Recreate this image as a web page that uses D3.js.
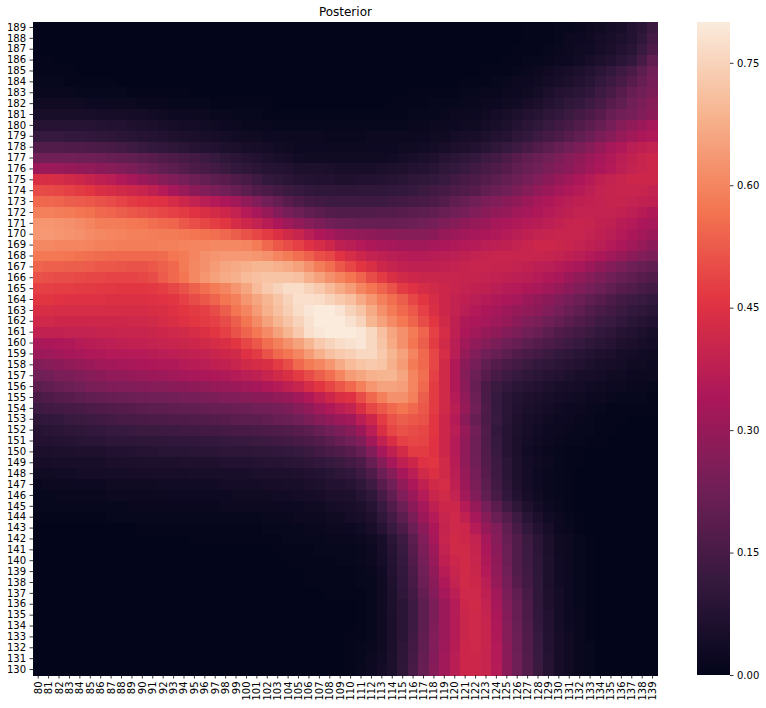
<!DOCTYPE html>
<html><head><meta charset="utf-8">
<script src="https://cdn.jsdelivr.net/npm/d3@7/dist/d3.min.js"></script>
<style>html,body{margin:0;padding:0;background:#fff}svg{display:block}text{font-family:"DejaVu Sans",sans-serif}</style>
</head><body><svg id="c" width="766" height="708"></svg>
<script>
const title = "Posterior";
const xCategories = d3.range(80, 140);
const yCategories = d3.range(189, 129, -1);
const colorbarTicks = [0, 0.15, 0.30, 0.45, 0.60, 0.75];
const valueMax = 0.8;
const rocketStops = ["#03051a","#35193e","#701f57","#ad1759","#e13342","#f37651","#f6b48f","#faebdd"];
// cell values in hundredths, rows top (189) to bottom (130), columns 80..139
const posterior = [
[0,0,0,0,0,0,0,0,0,0, 0,0,0,0,0,0,0,0,0,0, 0,0,0,0,0,0,0,0,0,0, 0,0,0,0,0,0,0,0,0,0, 0,0,0,0,0,0,0,.5,.5,.5, 1,1,1.5,2,3,4,5,7,9,12.5],
[0,0,0,0,0,0,0,0,0,0, 0,0,0,0,0,0,0,0,0,0, 0,0,0,0,0,0,0,0,0,0, 0,0,0,0,0,0,0,0,0,0, 0,0,0,0,0,0,0,.5,.5,.5, 1,2,2.5,3,4,5,6,7.5,10,14],
[0,0,0,0,0,0,0,0,0,0, 0,0,0,0,0,0,0,0,0,0, 0,0,0,0,0,0,0,0,0,0, 0,0,0,0,0,0,0,0,0,0, 0,0,0,0,0,0,.5,.5,.5,1, 1.5,2,3,3.5,4.5,5.5,7,8.5,12,16],
[.5,.5,0,0,0,0,0,0,0,0, 0,0,0,0,0,0,0,0,0,0, 0,0,0,0,0,0,0,0,0,0, 0,0,0,0,0,0,0,0,0,0, 0,0,0,0,0,.5,.5,1,1,1.5, 2,2.5,3.5,5,6,7,9,11,15,20],
[.5,.5,.5,.5,0,0,0,0,0,0, 0,0,0,0,0,0,0,0,0,0, 0,0,0,0,0,0,0,0,0,0, 0,0,0,0,0,0,0,0,0,0, 0,0,0,.5,.5,.5,1,1.5,2,3, 4,5,6,7,9,11,13,15.5,19,23],
[1,1,1,.5,.5,.5,.5,.5,0,0, 0,0,0,0,0,0,0,0,0,0, 0,0,0,0,0,0,0,0,0,0, 0,0,0,0,0,0,0,0,0,0, 0,.5,.5,.5,1,1.5,2,2.5,3,4, 5,6,7,8.5,11,13,15,18,21,24],
[1.5,1.5,1.5,1.5,1,1,1,1,1,.5, .5,.5,.5,.5,.5,0,0,0,0,0, 0,0,0,0,0,0,0,0,0,0, 0,0,0,0,0,0,.5,.5,.5,.5, .5,1,1,1.5,1.5,2,2.5,3,4,5.5, 7,8,9,10.5,13,15,18,21,23,25],
[3,3,3,3,3,2.5,2.5,2,2,2, 1.5,1.5,1.5,1,1,1,1,.5,.5,.5, .5,.5,.5,0,0,0,0,0,0,0, 0,0,0,0,.5,.5,.5,.5,1,1, 1,1.5,1.5,2,2.5,3,3.5,4.5,5.5,7, 8.5,10,11,13,15,18,20,23,25,27],
[5,5,5,5,5,5,4.5,4.5,4.5,4, 4,3.5,3,2.5,2.5,2,2,1.5,1.5,1, 1,1,.5,.5,.5,.5,.5,.5,.5,.5, .5,.5,.5,.5,.5,.5,1,1,1,1.5, 2,2,2.5,3,4,5,6,7,8,9.5, 11,12.5,14,16,18,21,23,24,26,28],
[8,8,8,8,8,8,7.5,7,7,6.5, 6,5.5,5,4.5,4,4,3.5,3,2.5,2, 1.5,1.5,1.5,1,1,1,1,1,1,1, 1,1,1,1,1,1,1.5,1.5,2,2, 2.5,3,3,4,5,6,7.5,9,10,12, 13.5,15,17,19,21,24,27,29,31,33],
[11.5,11.5,11.5,11,11,10.5,10,9.5,9,8.5, 8,7.5,7,6.5,6,5.5,5,4.5,4,3.5, 3,3,2.5,2.5,2,2,2,2,1.5,1.5, 1.5,1.5,2,2,2,2,2,2.5,3,3, 4,4.5,5,6,7,8,9.5,11,13,14.5, 16,18,20,22,25,27,30,32,34,35],
[17,17,17,16.5,16.5,16,15.5,15,14,13, 12,11,10.5,9.5,9,8,7.5,7,6,5.5, 5,4.5,4,3.5,3,2.5,2.5,2.5,2,2, 2,2,2.5,2.5,2.5,3,3,3.5,4,5, 6,6.5,7,8.5,10,11.5,13,15,17,19, 21,23,25,27,30,33,35,37,38,39],
[23,23,23,23,22.5,22.5,22,21,20.5,20, 19,18,17,16,15,14,13,11.5,10,9, 8,7,6,5,4.5,3.5,3,3,3,3, 3,3,3,3,3.5,4,5,5.5,6.5,8, 9,10,11,13,14,16,18,20,21.5,23, 25,27,28.5,31,33,35,37,38.5,40,41],
[31,31,30.5,30,29.5,29,28,27,26,25, 23,21.5,20,19,17.5,16,15,14,12.5,11, 10,9,8,7.5,7,6,6,6,5.5,5, 5,5,5,5.5,6,6.5,7,7.5,8.5,10, 11,12,13.5,15,16.5,18,20,21.5,23,25, 26.5,28,30,32,34,35.5,37.5,39,40,41],
[44,43.5,43,42,41,39.5,38,37,35,33, 31,29,27,25.5,24,22,20.5,19,18,16.5, 15,13,11,10,9,8,7.5,7,7,6.5, 6.5,7,7,7.5,8,8.5,9.5,10,11,12, 13.5,15,16,17.5,19,20.5,22,24,26,28, 30,32,34,36,38,39,40,41,41,41],
[50,49.5,49,48,47,46,44,43,42,41, 40,38,36,33,30.5,28,26,24.5,23,21, 19,17,15.5,14,12.5,11.5,10.5,10,10,9.5, 9.5,10,10,10,10.5,11,11.5,12.5,13.5,14.5, 16,17,18,20,21.5,23,25,27,29.5,31, 33,34.5,36,37.5,39,39.5,40,40,40,39],
[55,54.5,54,53,52.5,52,51,50,48.5,47, 46,45.5,45,43,41,39,37,35.5,34,32, 29,26,23,20.5,18,16,14.5,13.5,13,13, 13,13,13,13,13.5,14,14.5,15,16,17.5, 19.5,21,23,25,26,27.5,29,31,33,34.5, 36,37,38,38.5,39,39.5,39.5,39,38.5,38],
[59,59,58.5,58,57,56.5,55,54,53,52, 51,50,49,48,47,45.5,44,42.5,41,39, 36,33,30,26.5,24,22,20,18.5,17.5,17, 17,17,17,17.5,17.5,18,18.5,19,20,21.5, 23,24,26,27.5,29,30,32,33,34.5,36, 37,38,39,39,39,39,38.5,37.5,36.5,35],
[63,63,62.5,62,61,60,58.5,58.5,58,57.5, 57,56,55,54,52,50.5,49,47.5,46,43, 41,39,36.5,34,31.5,29,27,25,23.5,22, 21.5,21,21,21,21,21.5,22,23,24,25.5, 27,28.5,30,31,33,34,35,36,36.5,37.5, 38.5,39.5,40,39.5,38.5,38,36.5,35.5,34,33],
[63.5,63.5,63,62.5,62,61,60.5,60,59.5,59, 59,58.5,58,58,57.5,57,56.5,56,54.5,53, 51,49,47,44.5,42,40,37,34.5,33,31, 30,29,28.5,28,27.5,27,27,27,28,30, 31,32,33,34,35,36,37,38,39,39.5, 40,40,40,39,38,37,35.5,34,32.5,31],
[60.5,60.5,60,60,60,59.5,59,59,58.5,58.5, 58.5,58.5,59,59,59.5,60,60,60.5,60.5,60.5, 60,58,55,52,50,48,45,43,41,38, 37,35.5,34.5,33.5,33,32.5,32,32,33,34, 35,35.5,36,37,37.5,38,39,40,41,41, 40.5,40,39,38,37,35.5,34,32,30,28],
[57.5,57.5,57.5,57,56.5,56,55.5,55,55,55, 55,55,55.5,57,58,60,62,63,63.5,63.5, 63.5,63,62,60,58,56,53.5,50.5,49,45.5, 43,41,39,38,37,36.5,36,36,36.5,37, 37.5,38,39,39.5,40,40,40,40,40,39.5, 39,38,37,35.5,34,32,30,28,26,25],
[54,53.5,53.5,53,53,52.5,52,52,51.5,51, 51,52,53.5,55,58,60.5,62,64,66,67, 68,69,69,68,67,65,62,58.5,56,52, 49,46,44,41,39.5,38.5,38,38,38,38.5, 39,39.5,40,40,39.5,39.5,39,38.5,37.5,37, 36,35,33.5,31,28.5,26.5,24.5,22.5,21,20],
[51,50.5,50,50,49.5,49,49,48.5,48.5,48.5, 49,50,52.5,55,57,60.5,63,65,67,68, 70,71,72,72,72,71,68,65,62,59.5, 57,54,50,47,44,42,41,40.5,40.5,40, 40,39.5,39.5,39,38.5,38,37.5,37,36,35, 33.5,31,29,27,25,23,21,19.5,18,17],
[48,48,47.5,47.5,47,47,46.5,46.5,46,46, 46,46.5,47.5,49,51,53.5,56,58,60,63, 66,70,73,75,77,77,75,73,70,67, 64,60,57,54,51,47,45,43,42,41, 40,39,38.5,38,37,36,35.5,34.5,33.5,32, 30,28,26,24,22,20,18,17,15,14],
[46,46,45.5,45,45,45,45,44.5,44.5,44.5, 44.5,45,45.5,46,48,50,52,54,57,59, 63,66,69,72,75,77.5,77.5,77,75,73, 71,67,63,59,56,53,49,46,43,41, 39,38,37,36,35,34,33,31,29.5,28, 26,24,22,20,18,16,14,13,12,11],
[43.5,43.5,43,43,43,43,43,43,43,43, 43,43.5,44,45,46,47,48,50,53,57, 60,64,68,71,74,77,79,80,80,78.5, 75,72,67,62,58,55,52,48,44,41, 39,37,35.5,34,33,31.5,30,29,28,26, 24,21.5,19.5,17.5,15.5,14,12.5,11,10,9],
[41.5,41.5,41,41,41,41,41,41,41,41.5, 41.5,42,43,44,45,46,47,48,50,53, 57,61,65,69,72,75,78,80,80,80, 78,75,69,65,61,57.5,54,50,46,42, 38,35,34,33,31.5,30,28,26,24.5,22.5, 20.5,18.5,17,15,13,12,10.5,9,8,7],
[38.5,38.5,38.5,39,39,39,39.5,39.5,40,40, 40,40.5,41,41.5,42,43,44.5,46,48,51, 54,57.5,61,65,69,73,77.5,79,80,80, 80,79,76,71,66,62,58,54,48,43, 38,34,32,30,28.5,26.5,25,23,21.5,19, 17,15.5,14,12.5,11,9.5,8,7,6,5],
[33.5,34,34.5,35,36,36.5,37,37.5,38,38.5, 38.5,39,39.5,40,40.5,41,42,43,44,46, 49,52,56,59,62,65,69,73,75,77, 78,79,76,72,67,62,57,53,47,42, 37,32,29,27,24.5,22.5,21,19,17.5,16, 14.5,13,11.5,10,9,8,6.5,5.5,5,4],
[31,31.5,32.5,33,33.5,34.5,35,35.5,35.5,36, 36,36.5,37,37.5,38,38.5,39,40,41,42, 45,47,51,55,57,60,64,68,71,73, 74,76,76,73,69,65,60,55,49,43, 37,30,26,23,21,19,17,15.5,14,12.5, 11,9.5,8.5,7.5,6.5,5.5,4.5,4,3.5,3],
[26,27,28,29,30,31,32,32.5,33,33.5, 34,34.5,35,35,36,36.5,37,38,38.5,40, 42,43,44,47,50,55,58,60,63,67, 70,72,73,72,68,64,58,55,49,42, 35,28,24,20,17.5,15.5,14,12.5,11,10, 9,8,7,6,5,4.5,4,3,3,2.5],
[23,23.5,24.5,25,26,27,28,29,29.5,30, 30.5,31,31.5,32,33,33.5,34,34.5,35,36, 37,38,40,42,44,47,50,53,56,60, 64,66,68,68.5,69,66,60,56,48,42, 35,27,22,18,15,13,11.5,10,9,8, 7,6,5,4.5,4,3,3,2.5,2,2],
[19,20,21,22,23,24.5,25,25.5,26,26, 26.5,27,27,27.5,28,28.5,29,30,30.5,31, 32,33,34.5,36,38,40,43,46,49,52, 55,59,63,65.5,65.5,64.5,60,55,47,42, 35,28,21,15.5,12.5,10.5,9,8,7,6, 5,4.5,4,3.5,3,2.5,2,1.5,1.5,1],
[15.5,16.5,17.5,18,19,20,20.5,21,21.5,22, 22.5,23,23,23.5,24,24,24.5,25,26,26, 27,27.5,28,29,30,32,35,38,41,44, 45,50,55,59,62,62,59,53,47,42, 36,29,22,15.5,11.5,9,7.5,6.5,5.5,5, 4,3.5,3,2.5,2,1.5,1,1,1,.5],
[13,13.5,14,14.5,15,16,16.5,17,17.5,18, 18.5,19,19,19.5,20,20,20.5,21,21,21.5, 22,23,23.5,24,25,27,29,32,35,37, 39,44,49,52,55,57,55,52,47,42, 37,30,23,16.5,11.5,9,7,5.5,5,4, 3,2.5,2,1.5,1,.5,.5,.5,.5,.5],
[10,10.5,11,12,12.5,13,13.5,14,15,15, 15.5,16,16,16.5,16.5,17,17,17.5,18,18.5, 19,19,20,21,21.5,23,25,27,29,31, 32,37,41,47,51,53,52,51,46,41, 36,28,21,16,12,8.5,6.5,5,4,3, 2.5,2,1.5,1,.5,.5,.5,0,0,0],
[8,8.5,9,9.5,10,10.5,11,11.5,11.5,12, 12.5,12.5,13,13,13.5,13.5,14,14,14.5,15, 15,15.5,16,16.5,17,18,19,21,23,25, 27,31,37,44,49,51,50,49,46,41, 37,30,23.5,17,11,8,6,4.5,3.5,2.5, 2,1.5,1,1,.5,.5,0,0,0,0],
[7,7,7.5,8,8.5,9,9,9.5,9.5,9.5, 10,10,10,10.5,10.5,10.5,11,11,11.5,12, 12,12.5,13,13.5,14,15,16,17,19,21, 23,26,32,38.5,43.5,48,49,48.5,45.5,41, 36,29,22.5,16.5,11.5,8,5.5,4,3,2, 1.5,1,1,.5,.5,0,0,0,0,0],
[5.5,5.5,6,6,6.5,6.5,6.5,7,7,7.5, 8,8,8.5,8.5,8.5,9,9,9,9.5,9.5, 9.5,10,10,10.5,11,11.5,12.5,14,15.5,16.5, 18,21,26,33,38,42.5,47,47,45,41, 36,29,22.5,17,12,8,5.5,3.5,2.5,1.5, 1,.5,.5,0,0,0,0,0,0,0],
[4.5,4.5,5,5,5,5,5,5.5,5.5,5.5, 6,6,6,6,6.5,6.5,6.5,6.5,7,7, 7,7.5,8,8,8.5,9,9.5,10.5,11.5,12.5, 14,16,21,27,33,38,41,45,46,42, 36.5,29,23,17.5,13,9,6,4,3,2, 1,.5,.5,0,0,0,0,0,0,0],
[3,3,3.5,3.5,4,4,4,4,4,4.5, 4.5,4.5,4.5,4.5,4.5,5,5,5,5,5, 5,5.5,5.5,6,6,6.5,7,7.5,8.5,9.5, 10.5,13,16.5,22,27,33,37,42,44.5,42, 37,30,24,18,13,9,6,4,2.5,1.5, 1,.5,0,0,0,0,0,0,0,0],
[1.5,2,2,2,2.5,2.5,2.5,3,3,3, 3,3,3.5,3.5,3.5,3.5,3.5,3.5,4,4, 4,4,4.5,4.5,5,5,5.5,6,7,7, 8,10,13,18,23,29,34,38.5,42,43, 38,31,25,19,14,9.5,6.5,4,2.5,1.5, 1,.5,0,0,0,0,0,0,0,0],
[1,1,1.5,1.5,1.5,1.5,1.5,2,2,2, 2,2,2,2.5,2.5,2.5,2.5,2.5,2.5,3, 3,3,3,3.5,3.5,4,4,4.5,5.5,5.5, 6,8,10,15,20,26,31,36,40.5,42, 39,32,26,20,15,10.5,7,4.5,3,1.5, 1,.5,0,0,0,0,0,0,0,0],
[1,1,1,1,1,1,1,1,1,1.5, 1.5,1.5,1.5,1.5,1.5,1.5,1.5,1.5,2,2, 2,2,2,2,2.5,2.5,3,3,4,4.5, 5,6,8,12,17,22,28,33,38,41, 41,36,30,24,18.5,13.5,9.5,6.5,4,2.5, 1.5,.5,0,0,0,0,0,0,0,0],
[.5,.5,.5,.5,.5,.5,.5,1,1,1, 1,1,1,1,1,1,1,1,1,1, 1,1,1.5,1.5,1.5,2,2,2,3,3, 4,5,6.5,10,14,19,25,31,36,40, 41.5,38.5,33,27,21.5,17.5,13,8.5,5.5,3.5, 2,1,.5,0,0,0,0,0,0,0],
[0,0,0,0,0,0,0,0,0,0, .5,.5,.5,.5,.5,.5,.5,.5,.5,.5, .5,.5,1,1,1,1,1.5,1.5,2,2, 2.5,3.5,5,8,12,16,22,28,34,39.5, 41.5,41,36,30,26,20,15,10.5,7,4.5, 2.5,1.5,.5,0,0,0,0,0,0,0],
[0,0,0,0,0,0,0,0,0,0, 0,0,0,0,0,.5,.5,.5,.5,.5, .5,.5,.5,.5,1,1,1,1,1.5,1.5, 1.5,2,3,5,9,13,19,26,33,40, 42,41,39,33,27,21,17,12.5,9,5.5, 3,2,1,.5,0,0,0,0,0,0],
[0,0,0,0,0,0,0,0,0,0, 0,0,0,0,0,0,0,0,0,0, 0,0,0,.5,.5,.5,.5,1,1,1, 1,1.5,2.5,4.5,8,12,18,25,31.5,39, 42,42,39.5,34,28,22,17,13,9,5.5, 3,2,1,.5,0,0,0,0,0,0],
[0,0,0,0,0,0,0,0,0,0, 0,0,0,0,0,0,0,0,0,0, 0,0,0,0,.5,.5,.5,.5,.5,1, 1,1.5,2,4,7.5,11.5,17,24,30.5,38, 41,42,40,35,28.5,22,17,13,9.5,6, 3.5,2,1,.5,0,0,0,0,0,0],
[0,0,0,0,0,0,0,0,0,0, 0,0,0,0,0,0,0,0,0,0, 0,0,0,0,0,0,.5,.5,.5,.5, .5,1,1.5,3.5,7,11,16,23,29,36.5, 40,42,40.5,35.5,29,23,17,13.5,9.5,6, 3.5,2,1,.5,0,0,0,0,0,0],
[0,0,0,0,0,0,0,0,0,0, 0,0,0,0,0,0,0,0,0,0, 0,0,0,0,0,0,.5,.5,.5,.5, .5,1,1,3,6.5,10.5,15,22,27.5,35, 39,42,41,37,30,24,18,14,10,6, 3.5,2.5,1,.5,0,0,0,0,0,0],
[0,0,0,0,0,0,0,0,0,0, 0,0,0,0,0,0,0,0,0,0, 0,0,0,0,0,0,0,0,.5,.5, .5,.5,1,3,6,10,14,20.5,26.5,33, 37.5,41.5,41.5,38,32,25,20,15,10,6.5, 4,2.5,1,.5,0,0,0,0,0,0],
[0,0,0,0,0,0,0,0,0,0, 0,0,0,0,0,0,0,0,0,0, 0,0,0,0,0,0,0,0,0,0, 0,.5,1,3,6,9,13,19,25,31, 36,41,42,39,33,26,21,16,10,6.5, 4,2.5,1,.5,0,0,0,0,0,0],
[0,0,0,0,0,0,0,0,0,0, 0,0,0,0,0,0,0,0,0,0, 0,0,0,0,0,0,0,0,0,0, 0,.5,1,3,5.5,9,13,19,25,31, 36,40.5,41.5,39.5,34,26.5,21,16,10.5,7, 4,2.5,1.5,.5,0,0,0,0,0,0],
[0,0,0,0,0,0,0,0,0,0, 0,0,0,0,0,0,0,0,0,0, 0,0,0,0,0,0,0,0,0,0, 0,.5,1,3,5.5,9,13,19,25.5,31, 36,40.5,41.5,40,34.5,27,21.5,16.5,11,7, 4,2.5,1.5,.5,0,0,0,0,0,0],
[0,0,0,0,0,0,0,0,0,0, 0,0,0,0,0,0,0,0,0,0, 0,0,0,0,0,0,0,0,0,0, .5,.5,1,3,5.5,9,13.5,19.5,26,31, 36,40.5,41.5,40,35,27,22,17,11.5,7.5, 4.5,3,1.5,.5,0,0,0,0,0,0],
[0,0,0,0,0,0,0,0,0,0, 0,0,0,0,0,0,0,0,0,0, 0,0,0,0,0,0,0,0,0,0, .5,1,1.5,3,5.5,9.5,14,20,26,31.5, 36.5,41,41.5,40,35.5,27.5,22,17,12,7.5, 4.5,3,1.5,1,0,0,0,0,0,0],
[0,0,0,0,0,0,0,0,0,0, 0,0,0,0,0,0,0,0,0,0, 0,0,0,0,0,0,0,0,0,0, .5,1,2,3.5,6,9.5,14.5,20.5,26.5,32, 37,41,41,40,35.5,28,22.5,17.5,12,8, 4.5,3,1.5,1,0,0,0,0,0,0],
[0,0,0,0,0,0,0,0,0,0, 0,0,0,0,0,0,0,0,0,0, 0,0,0,0,0,0,0,0,0,0, .5,1.5,2.5,4,6,10,15,21,27,32, 37,41,41,40,36,28,22.5,17.5,12.5,8, 4.5,3,1.5,1,0,0,0,0,0,0]
];

const plot = {left:33, right:657.8, top:22, bottom:675};
const bar = {left:697, right:730};
const svg = d3.select("#c");
const x = d3.scaleBand().domain(xCategories).range([plot.left, plot.right]);
const y = d3.scaleBand().domain(yCategories).range([plot.top, plot.bottom]);
const color = d3.scaleLinear()
  .domain(rocketStops.map((_, i) => i / (rocketStops.length - 1) * valueMax))
  .range(rocketStops).interpolate(d3.interpolateRgb).clamp(true);

const cells = posterior.flatMap((row, r) => row.map((v, c) => ({r, c, v: v / 100})));
svg.append("g").attr("shape-rendering","crispEdges").selectAll("rect").data(cells).join("rect")
  .attr("x", d => x(xCategories[d.c])).attr("y", d => y(yCategories[d.r]))
  .attr("width", x.bandwidth() + 0.5).attr("height", y.bandwidth() + 0.5)
  .attr("fill", d => color(d.v));

function style(g){
  g.select(".domain").remove();
  g.selectAll(".tick line").attr("stroke","#000").attr("stroke-width",0.8);
  g.selectAll(".tick text").attr("fill","#000").style("font-size","10px").style("font-family",'"DejaVu Sans",sans-serif');
}
svg.append("g").attr("transform",`translate(0,${plot.bottom})`)
  .call(d3.axisBottom(x).tickSize(3.5).tickPadding(3)).call(style)
  .selectAll(".tick text")
  .attr("transform","rotate(-90)").attr("text-anchor","end").attr("dy","0.35em").attr("x",-6.5).attr("y",0);
svg.append("g").attr("transform",`translate(${plot.left},0)`)
  .call(d3.axisLeft(y).tickSize(3.5).tickPadding(3.5)).call(style);

svg.append("text").attr("x",(plot.left+plot.right)/2).attr("y",16).attr("text-anchor","middle")
  .attr("fill","#000").style("font-size","12px").text(title);

const cb = d3.scaleLinear().domain([0, valueMax]).range([plot.bottom, plot.top]);
const grad = svg.append("defs").append("linearGradient").attr("id","rk")
  .attr("x1",0).attr("y1",1).attr("x2",0).attr("y2",0);
grad.selectAll("stop").data(d3.range(0,65)).join("stop")
  .attr("offset", d => d/64).attr("stop-color", d => color(d/64*valueMax));
svg.append("rect").attr("x",bar.left).attr("y",plot.top).attr("width",bar.right-bar.left)
  .attr("height",plot.bottom-plot.top).attr("fill","url(#rk)");
svg.append("g").attr("transform",`translate(${bar.right},0)`)
  .call(d3.axisRight(cb).tickValues(colorbarTicks).tickFormat(d3.format(".2f")).tickSize(3.5).tickPadding(3.5)).call(style);
</script></body></html>
